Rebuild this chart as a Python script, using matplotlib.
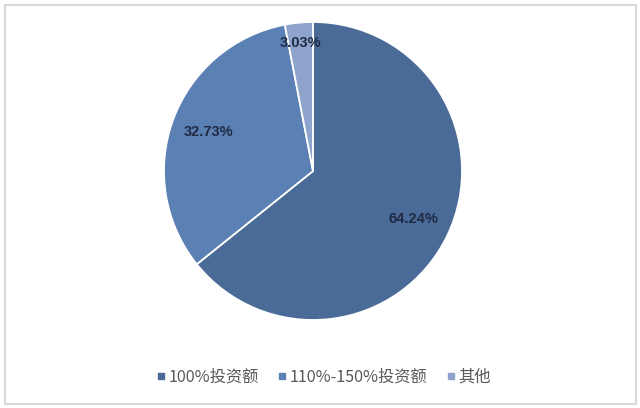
import matplotlib
matplotlib.use("Agg")
import matplotlib.pyplot as plt
import numpy as np
from matplotlib.lines import Line2D
from matplotlib.patches import Rectangle

plt.rcParams["font.family"] = ["Noto Sans CJK SC", "DejaVu Sans"]

# данные
LABELS = ["100%投资额", "110%-150%投资额", "其他"]
VALUES = [64.24, 32.73, 3.03]
PCT_TEXT = ["64.24%", "32.73%", "3.03%"]
COLORS = ["#4a6a98", "#5b80b4", "#8ea4cc"]
PCT_DIST = [0.75, 0.75, 0.86]

fig = plt.figure(figsize=(6.4, 4.08), dpi=100)
fig.patch.set_facecolor("white")

# рамка вокруг графика
fig.patches.append(Rectangle((5 / 640, 4 / 408), 631 / 640, 399 / 408,
                             transform=fig.transFigure, fill=False,
                             edgecolor="#d9d9d9", linewidth=1.5))

ax = fig.add_axes([164 / 640, 88 / 408, 298 / 640, 298 / 408])
wedges, _ = ax.pie(VALUES, colors=COLORS, startangle=90, counterclock=False,
                   wedgeprops={"edgecolor": "white", "linewidth": 1.3})
ax.set_xlim(-1, 1)
ax.set_ylim(-1, 1)
ax.set_aspect("equal")
ax.axis("off")

for w, txt, d in zip(wedges, PCT_TEXT, PCT_DIST):
    ang = np.deg2rad((w.theta1 + w.theta2) / 2)
    ax.text(d * np.cos(ang), d * np.sin(ang), txt, ha="center", va="center",
            fontsize=10.5, color="#1f2a44", fontweight="bold",
            family=["Liberation Sans", "DejaVu Sans"])

handles = [Line2D([], [], marker="s", linestyle="none", markersize=5,
                  markerfacecolor=c, markeredgecolor=c) for c in COLORS]
fig.legend(handles, LABELS, loc="center", bbox_to_anchor=(0.506, 1 - 377 / 408),
           ncol=3, frameon=False, fontsize=11.7, labelcolor="#595959",
           handlelength=0.5, handletextpad=0.2, columnspacing=1.2)

fig.savefig("out.png", dpi=100, facecolor="white")
